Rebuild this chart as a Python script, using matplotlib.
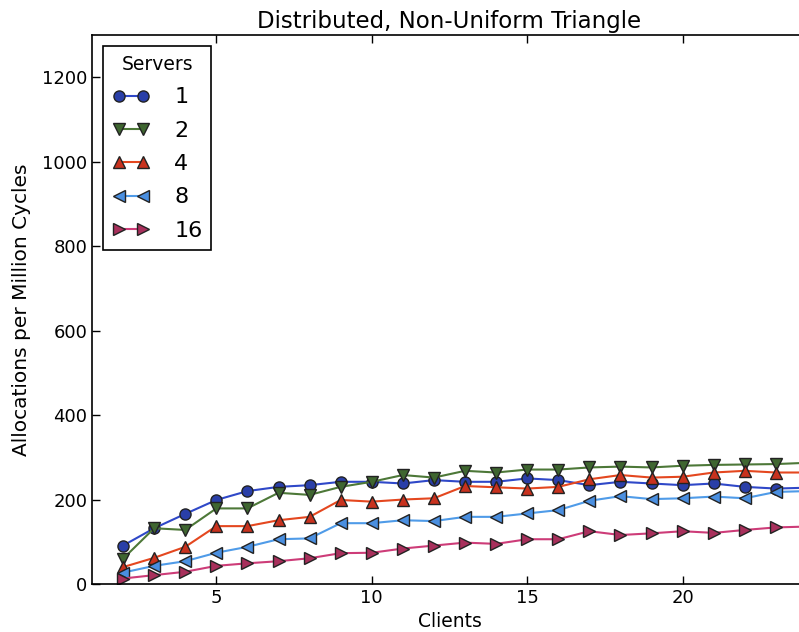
import matplotlib
matplotlib.use('Agg')
import matplotlib.pyplot as plt

# Throughput per client count, one series per server count
clients = list(range(2, 25))
servers = ['1', '2', '4', '8', '16']

alloc_1 = [91, 132, 166, 199, 220, 230, 234, 242, 242, 238, 246, 242, 242, 250, 246,
           234, 242, 238, 234, 238, 230, 226, 228]
alloc_2 = [60, 132, 128, 179, 179, 216, 211, 230, 242, 258, 252, 268, 264, 271, 271,
           276, 278, 276, 280, 282, 283, 284, 287]
alloc_4 = [40, 62, 88, 137, 137, 151, 159, 199, 195, 200, 203, 232, 229, 226, 230,
           248, 258, 252, 254, 264, 268, 264, 264]
alloc_8 = [27, 43, 54, 74, 88, 106, 108, 144, 144, 151, 149, 159, 159, 167, 175,
           197, 208, 201, 203, 207, 203, 218, 220]
alloc_16 = [13, 21, 29, 43, 49, 54, 61, 73, 74, 84, 91, 98, 95, 106, 106,
            125, 116, 120, 125, 121, 128, 134, 136]

series = [alloc_1, alloc_2, alloc_4, alloc_8, alloc_16]
markers = ['o', 'v', '^', '<', '>']
line_colors = ['#2f48c8', '#4d7838', '#e4471f', '#4f9be8', '#cd3c78']
face_colors = ['#2a3fa8', '#3f6630', '#c8321e', '#4a8fe0', '#a8305c']

fig = plt.figure(figsize=(7.99, 6.32), dpi=100)
# axes run past the right edge of the figure
ax = fig.add_axes([92 / 799, 48 / 632, 715 / 799, 549 / 632])

for vals, label, m, lc, fc in zip(series, servers, markers, line_colors, face_colors):
    ax.plot(clients, vals, color=lc, marker=m, markerfacecolor=fc,
            markeredgecolor='#222222', markeredgewidth=1.0, markersize=8,
            linewidth=1.5, label=label)

ax.set_xlim(1, 24)
ax.set_ylim(0, 1300)
ax.set_xticks([5, 10, 15, 20])
ax.set_yticks([0, 200, 400, 600, 800, 1000, 1200])
ax.tick_params(direction='in', top=True, right=True, labelsize=13, length=6, width=1)
for sp in ax.spines.values():
    sp.set_linewidth(1.2)

ax.set_title('Distributed, Non-Uniform Triangle', fontsize=16.5, pad=5)
ax.set_xlabel('Clients', fontsize=13.5, labelpad=4)
ax.set_ylabel('Allocations per Million Cycles', fontsize=14.5, labelpad=8)

leg = ax.legend(title='Servers', loc='upper left', numpoints=2, fontsize=16,
                title_fontsize=13.5, fancybox=False, edgecolor='black',
                framealpha=1, handlelength=1.7, handletextpad=1.1,
                labelspacing=0.6, borderaxespad=0.5, borderpad=0.4)
leg.get_frame().set_linewidth(1.2)

fig.savefig('out.png', dpi=100)
